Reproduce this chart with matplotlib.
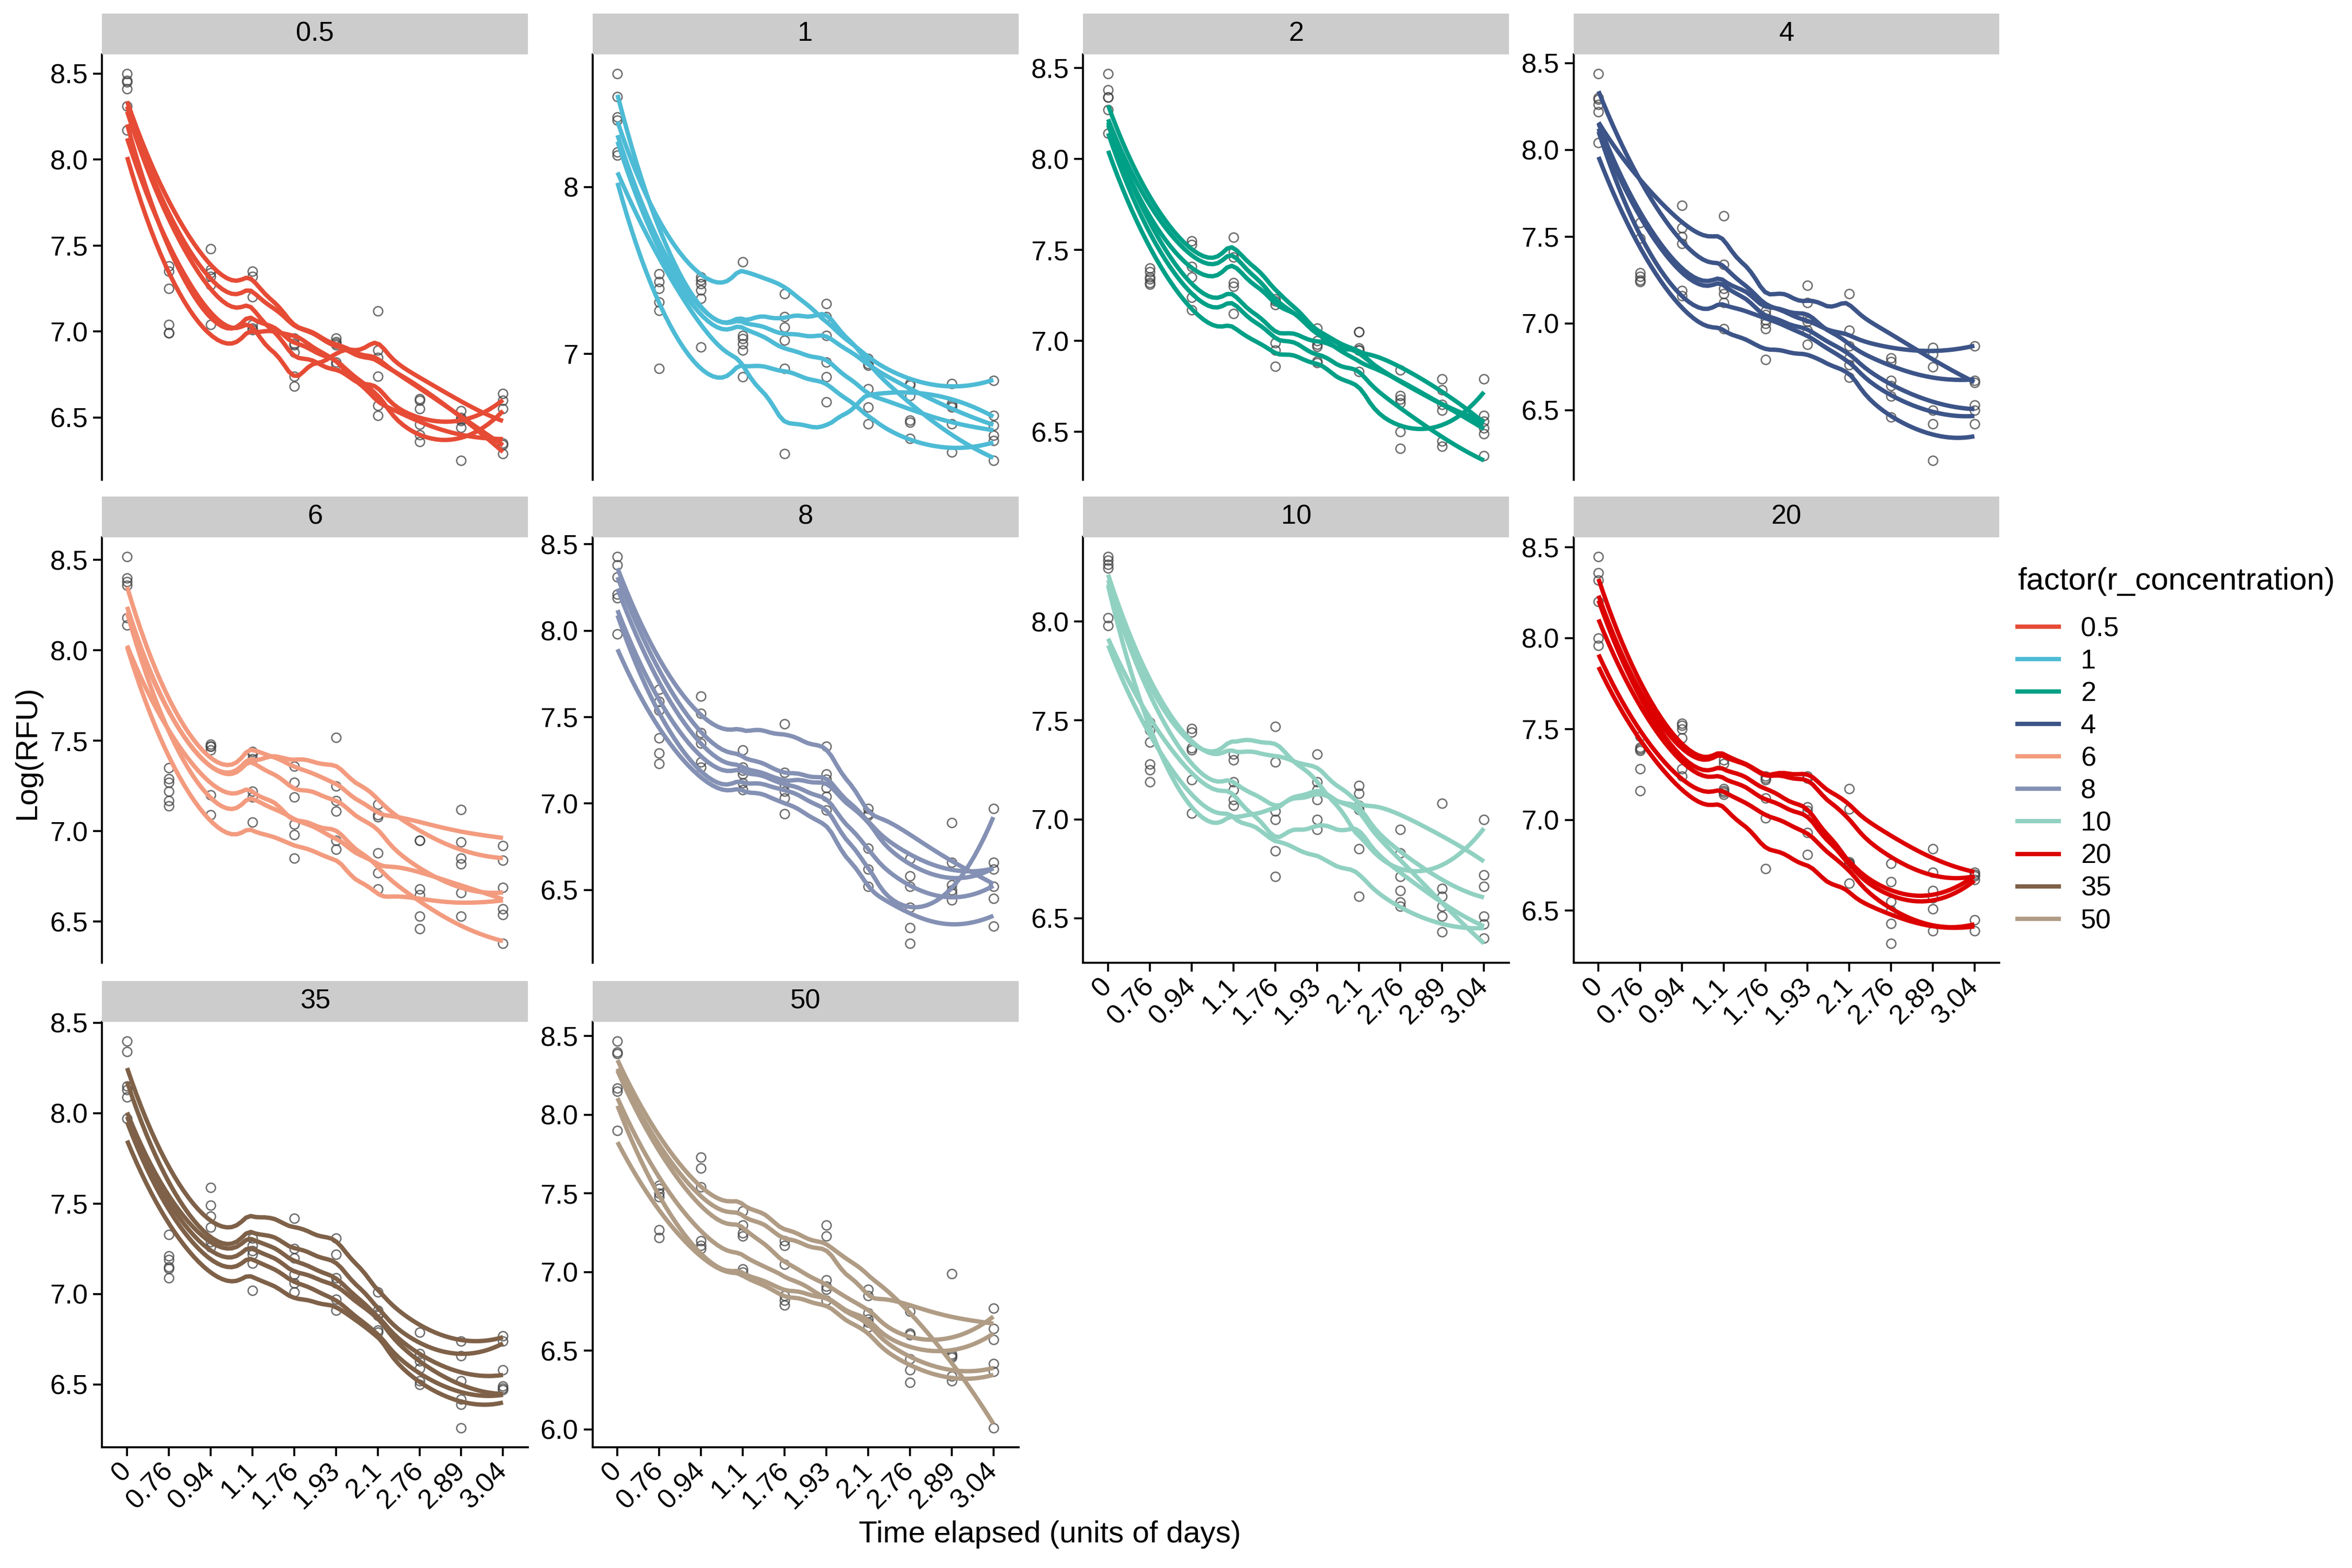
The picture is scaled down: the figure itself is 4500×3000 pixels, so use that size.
import numpy as np
import matplotlib
matplotlib.use("Agg")
import matplotlib.pyplot as plt
from matplotlib.lines import Line2D
from matplotlib.ticker import MultipleLocator

plt.rcParams['font.family'] = ['Liberation Sans', 'DejaVu Sans']

time_labels = ['0', '0.76', '0.94', '1.1', '1.76', '1.93', '2.1', '2.76', '2.89', '3.04']
conc_labels = ['0.5', '1', '2', '4', '6', '8', '10', '20', '35', '50']
palette = ['#E64B35', '#4DBBD5', '#00A087', '#3C5488', '#F39B7F',
           '#8491B4', '#91D1C2', '#DC0000', '#7E6148', '#B09C85']

# Log(RFU), one row per replicate, one column per time point
rfu_0_5 = [[8.50, 7.38, 7.48, 7.35, 6.96, 6.94, 6.89, 6.60, 6.50, 6.35],
           [8.46, 7.35, 7.34, 7.32, 6.93, 6.96, 6.85, 6.61, 6.54, 6.29],
           [8.45, 7.25, 7.36, 7.20, 6.74, 6.82, 6.74, 6.36, 6.44, 6.64],
           [8.41, 6.99, 7.27, 7.04, 6.88, 6.92, 6.57, 6.40, 6.25, 6.60],
           [8.31, 7.04, 7.32, 7.02, 6.68, 6.81, 7.12, 6.55, 6.49, 6.55],
           [8.17, 6.99, 7.04, 7.01, 6.92, 6.93, 6.51, 6.46, 6.48, 6.34]]
rfu_1 = [[8.54, 7.48, 7.46, 7.55, 7.36, 7.22, 6.97, 6.82, 6.82, 6.84],
         [8.68, 7.43, 7.44, 7.11, 7.22, 7.30, 6.93, 6.60, 6.58, 6.36],
         [8.42, 7.39, 7.42, 7.09, 7.16, 7.11, 6.94, 6.75, 6.69, 6.57],
         [8.40, 7.31, 7.38, 7.06, 7.08, 6.95, 6.79, 6.59, 6.68, 6.51],
         [8.21, 7.26, 7.33, 7.02, 6.40, 6.71, 6.68, 6.81, 6.70, 6.63],
         [8.19, 6.91, 7.04, 6.86, 6.91, 6.86, 6.58, 6.49, 6.41, 6.48]]
rfu_2 = [[8.47, 7.40, 7.55, 7.57, 7.23, 7.07, 6.95, 6.84, 6.79, 6.52],
         [8.38, 7.38, 7.53, 7.49, 7.22, 7.00, 6.96, 6.70, 6.73, 6.49],
         [8.34, 7.35, 7.41, 7.46, 7.20, 6.98, 7.05, 6.68, 6.65, 6.56],
         [8.34, 7.34, 7.35, 7.32, 6.99, 6.97, 7.05, 6.66, 6.62, 6.59],
         [8.27, 7.32, 7.24, 7.30, 6.95, 6.89, 6.95, 6.50, 6.45, 6.37],
         [8.14, 7.31, 7.17, 7.15, 6.86, 6.88, 6.83, 6.41, 6.42, 6.79]]
rfu_4 = [[8.44, 7.58, 7.55, 7.34, 7.07, 7.03, 6.96, 6.80, 6.86, 6.87],
         [8.30, 7.49, 7.68, 7.62, 6.97, 7.22, 7.17, 6.78, 6.82, 6.67],
         [8.29, 7.29, 7.50, 7.20, 7.05, 7.12, 6.87, 6.67, 6.75, 6.66],
         [8.26, 7.27, 7.46, 7.17, 7.02, 7.01, 6.80, 6.64, 6.50, 6.53],
         [8.22, 7.25, 7.19, 7.12, 7.00, 6.96, 6.76, 6.58, 6.42, 6.50],
         [8.04, 7.24, 7.16, 6.97, 6.79, 6.88, 6.69, 6.46, 6.21, 6.42]]
rfu_6 = [[8.52, 7.35, 7.48, 7.44, 7.36, 7.25, 7.15, 6.95, 7.12, 6.92],
         [8.40, 7.29, 7.47, 7.43, 7.27, 7.52, 7.09, 6.95, 6.94, 6.84],
         [8.38, 7.27, 7.45, 7.40, 7.19, 7.17, 7.08, 6.68, 6.66, 6.69],
         [8.36, 7.22, 7.20, 7.22, 7.04, 6.95, 6.88, 6.65, 6.85, 6.57],
         [8.18, 7.17, 7.47, 7.19, 6.98, 7.11, 6.77, 6.53, 6.53, 6.38],
         [8.14, 7.14, 7.09, 7.05, 6.85, 6.90, 6.68, 6.46, 6.82, 6.54]]
rfu_8 = [[8.43, 7.66, 7.62, 7.31, 7.46, 7.33, 6.97, 6.68, 6.89, 6.45],
         [8.38, 7.59, 7.52, 7.21, 7.18, 7.17, 6.93, 6.58, 6.66, 6.62],
         [8.31, 7.54, 7.41, 7.19, 7.11, 7.14, 6.94, 6.52, 6.53, 6.66],
         [8.21, 7.38, 7.35, 7.17, 7.07, 7.09, 6.74, 6.40, 6.50, 6.52],
         [8.19, 7.29, 7.24, 7.12, 7.03, 7.04, 6.62, 6.28, 6.44, 6.97],
         [7.98, 7.23, 7.21, 7.08, 6.94, 6.96, 6.52, 6.19, 6.48, 6.29]]
rfu_10 = [[8.33, 7.49, 7.46, 7.33, 7.29, 7.33, 7.05, 6.95, 7.08, 6.72],
          [8.31, 7.45, 7.44, 7.30, 7.47, 7.19, 6.85, 6.83, 6.65, 7.00],
          [8.29, 7.39, 7.36, 7.19, 7.04, 7.10, 7.17, 6.71, 6.61, 6.66],
          [8.27, 7.28, 7.03, 7.07, 7.00, 7.15, 7.13, 6.64, 6.56, 6.40],
          [8.02, 7.25, 7.35, 7.15, 6.84, 6.95, 7.07, 6.58, 6.51, 6.51],
          [7.98, 7.19, 7.20, 7.10, 6.71, 7.00, 6.61, 6.56, 6.43, 6.47]]
rfu_20 = [[8.45, 7.46, 7.53, 7.33, 7.24, 7.24, 7.17, 6.76, 6.84, 6.71],
          [8.36, 7.40, 7.52, 7.31, 7.23, 7.23, 7.06, 6.66, 6.71, 6.70],
          [8.32, 7.39, 7.50, 7.17, 7.22, 7.07, 6.77, 6.55, 6.61, 6.69],
          [8.20, 7.38, 7.45, 7.16, 7.12, 7.05, 6.76, 6.50, 6.57, 6.67],
          [8.00, 7.28, 7.28, 7.15, 7.01, 6.93, 6.76, 6.43, 6.39, 6.45],
          [7.96, 7.16, 7.24, 7.14, 6.73, 6.81, 6.65, 6.32, 6.51, 6.39]]
rfu_35 = [[8.40, 7.33, 7.59, 7.31, 7.42, 7.31, 7.01, 6.79, 6.74, 6.77],
          [8.34, 7.21, 7.49, 7.27, 7.25, 7.22, 6.91, 6.67, 6.66, 6.74],
          [8.15, 7.19, 7.43, 7.24, 7.20, 7.09, 6.89, 6.63, 6.52, 6.58],
          [8.13, 7.15, 7.37, 7.22, 7.11, 7.06, 6.88, 6.59, 6.42, 6.49],
          [8.09, 7.14, 7.29, 7.17, 7.06, 6.97, 6.80, 6.52, 6.39, 6.48],
          [7.97, 7.09, 7.26, 7.02, 7.01, 6.91, 6.79, 6.50, 6.26, 6.47]]
rfu_50 = [[8.47, 7.55, 7.73, 7.39, 7.20, 7.30, 6.89, 6.75, 6.48, 6.01],
          [8.40, 7.53, 7.66, 7.30, 7.17, 7.23, 6.85, 6.61, 6.99, 6.57],
          [8.39, 7.50, 7.54, 7.25, 7.05, 6.95, 6.74, 6.60, 6.47, 6.77],
          [8.17, 7.48, 7.20, 7.23, 6.85, 6.91, 6.70, 6.45, 6.46, 6.64],
          [8.15, 7.27, 7.17, 7.02, 6.82, 6.89, 6.68, 6.38, 6.34, 6.42],
          [7.90, 7.22, 7.15, 7.00, 6.79, 6.82, 6.65, 6.30, 6.31, 6.37]]

panels = [rfu_0_5, rfu_1, rfu_2, rfu_4, rfu_6, rfu_8, rfu_10, rfu_20, rfu_35, rfu_50]


def loess(x, y, xg, span=0.75):
    # local quadratic fit with tricube weights (like R's loess defaults)
    n = len(x)
    q = int(np.floor(n * span))
    out = np.empty(len(xg))
    for k, x0 in enumerate(xg):
        d = np.abs(x - x0)
        h = np.sort(d)[q - 1]
        w = np.clip(1 - (d / h) ** 3, 0, None) ** 3
        X = np.column_stack([np.ones(n), x - x0, (x - x0) ** 2])
        sw = np.sqrt(w)
        beta = np.linalg.lstsq(X * sw[:, None], y * sw, rcond=None)[0]
        out[k] = beta[0]
    return out


fig = plt.figure(figsize=(15, 10), dpi=300)

lefts = [0.0434, 0.2519, 0.4605, 0.6690]
bottoms = [0.694, 0.386, 0.077]
pw, ph = 0.1811, 0.2715
strip_h = 0.0257
txt = 12.6

xs = np.arange(1, 11)
xg = np.linspace(1, 10, 80)

for i, data in enumerate(panels):
    row, col = divmod(i, 4)
    ax = fig.add_axes([lefts[col], bottoms[row], pw, ph])
    arr = np.array(data)
    curves = [loess(xs.astype(float), r, xg) for r in arr]
    for r in arr:
        ax.plot(xs, r, 'o', mfc='none', mec=(0.25, 0.25, 0.25, 0.75),
                ms=4.2, mew=0.65, zorder=2)
    for c in curves:
        ax.plot(xg, c, color=palette[i], lw=2.0, zorder=3, solid_capstyle='butt')

    allv = np.concatenate([arr.ravel()] + curves)
    lo, hi = allv.min(), allv.max()
    pad = 0.05 * (hi - lo)
    ax.set_ylim(lo - pad, hi + pad)
    ax.set_xlim(0.4, 10.6)
    ax.yaxis.set_major_locator(MultipleLocator(1.0 if conc_labels[i] == '1' else 0.5))
    if conc_labels[i] != '1':
        ax.yaxis.set_major_formatter(plt.FormatStrFormatter('%.1f'))

    for s in ['top', 'right']:
        ax.spines[s].set_visible(False)
    for s in ['left', 'bottom']:
        ax.spines[s].set_linewidth(0.9)
    ax.tick_params(axis='both', length=4, width=0.9, labelsize=txt, pad=2.5)

    if i >= 6:
        ax.set_xticks(xs)
        ax.set_xticklabels(time_labels, rotation=45, ha='right', va='center',
                           rotation_mode='anchor')
        ax.tick_params(axis='x', pad=5)
    else:
        ax.spines['bottom'].set_visible(False)
        ax.set_xticks([])

    sax = fig.add_axes([lefts[col], bottoms[row] + ph, pw, strip_h])
    sax.set_facecolor('#cccccc')
    sax.set_xticks([])
    sax.set_yticks([])
    for s in sax.spines.values():
        s.set_visible(False)
    sax.text(0.5, 0.5, conc_labels[i], ha='center', va='center', fontsize=txt,
             transform=sax.transAxes)

handles = [Line2D([0], [0], color=c, lw=2.0) for c in palette]
leg = fig.legend(handles, conc_labels, title='factor(r_concentration)',
                 loc='upper left', bbox_to_anchor=(0.852, 0.647), frameon=False,
                 fontsize=txt, title_fontsize=14.5, handlelength=1.5,
                 handletextpad=0.8, labelspacing=0.25, borderpad=0,
                 alignment='left')
# extra room between the legend title and the first key
leg._legend_box.sep = 9.3

fig.text(0.0115, 0.52, 'Log(RFU)', rotation=90, ha='center', va='center', fontsize=14)
fig.text(0.4464, 0.0213, 'Time elapsed (units of days)', ha='center', va='center',
         fontsize=14)

fig.savefig('out.png', dpi=300)
